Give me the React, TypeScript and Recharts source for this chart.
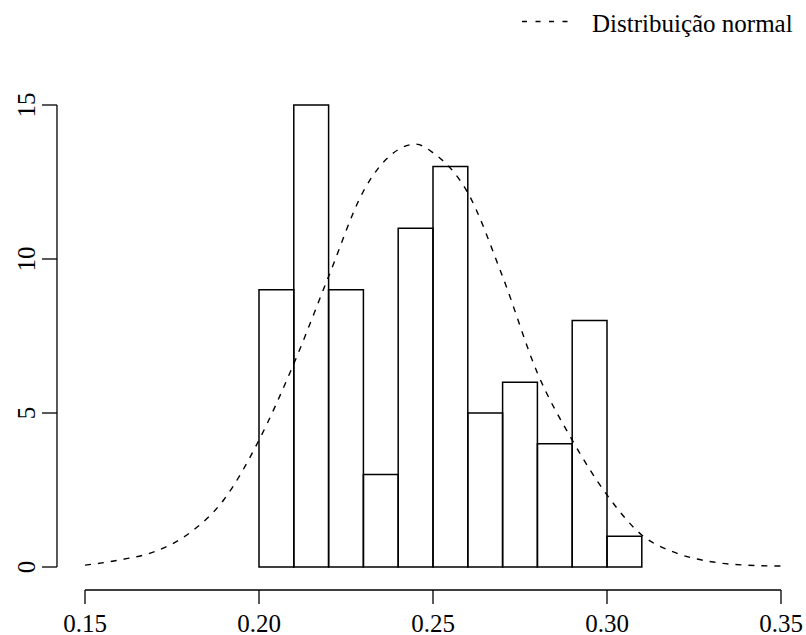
import React from "react";
import {
  ComposedChart,
  Line,
  XAxis,
  YAxis,
  ReferenceArea,
  ReferenceLine,
  Legend,
} from "recharts";

// histogram bins (left edge, right edge) and counts
const binStarts = [0.2, 0.21, 0.22, 0.23, 0.24, 0.25, 0.26, 0.27, 0.28, 0.29, 0.3];
const binEnds = [0.21, 0.22, 0.23, 0.24, 0.25, 0.26, 0.27, 0.28, 0.29, 0.3, 0.31];
const counts = [9, 15, 9, 3, 11, 13, 5, 6, 4, 8, 1];

// dashed normal curve
const curveX = [
  0.15, 0.16, 0.17, 0.18, 0.19, 0.2, 0.21, 0.22, 0.23, 0.24, 0.245, 0.25, 0.26,
  0.27, 0.28, 0.29, 0.3, 0.31, 0.32, 0.33, 0.34, 0.35,
];
const curveY = [
  0.06, 0.23, 0.5, 1.1, 2.2, 4.12, 6.6, 9.43, 12.2, 13.55, 13.73, 13.45, 12.15,
  9.43, 6.3, 4.12, 2.34, 1.04, 0.45, 0.17, 0.06, 0.03,
];

const xTicks = [0.15, 0.2, 0.25, 0.3, 0.35];
const yTicks = [0, 5, 10, 15];
const legendLabel = "Distribuição normal";

const FONT = '"Liberation Serif", "Times New Roman", Times, serif';
const textStyle = { fontFamily: FONT, fontSize: 25 };

const curveData = curveX.map((x, i) => ({ x, density: curveY[i] }));

function XTick(props: any) {
  const { x, y, payload } = props;
  return (
    <g>
      <line x1={x} x2={x} y1={y + 23} y2={y + 37} stroke="#000" strokeWidth={1.3} />
      <text x={x} y={y + 64.5} textAnchor="middle" style={textStyle} fill="#000">
        {payload.value.toFixed(2)}
      </text>
    </g>
  );
}

function YTick(props: any) {
  const { x, y, payload } = props;
  return (
    <g>
      <line x1={x - 28} x2={x - 43} y1={y} y2={y} stroke="#000" strokeWidth={1.3} />
      <text
        x={x - 50}
        y={y}
        textAnchor="middle"
        transform={`rotate(-90, ${x - 50}, ${y})`}
        style={textStyle}
        fill="#000"
      >
        {payload.value}
      </text>
    </g>
  );
}

function LegendBox() {
  return (
    <svg width={291} height={40} style={{ display: "block" }}>
      <line x1={7} x2={53} y1={21.5} y2={21.5} stroke="#000" strokeWidth={1.4} strokeDasharray="5 8.5" />
      <text x={77} y={31.5} style={textStyle} fill="#000">
        {legendLabel}
      </text>
    </svg>
  );
}

export default function App() {
  return (
    <div style={{ position: "absolute", left: 0, top: 0, background: "#fff" }}>
      <ComposedChart
        width={806}
        height={635}
        data={curveData}
        margin={{ top: 105, right: 25, bottom: 0, left: 0 }}
      >
        <XAxis
          dataKey="x"
          type="number"
          domain={[0.15, 0.35]}
          ticks={xTicks}
          allowDataOverflow
          axisLine={false}
          tickLine={false}
          tickSize={0}
          tickMargin={0}
          height={68}
          tick={<XTick />}
          interval={0}
        />
        <YAxis
          type="number"
          domain={[0, 15]}
          ticks={yTicks}
          allowDataOverflow
          axisLine={false}
          tickLine={false}
          tickSize={0}
          tickMargin={0}
          width={85}
          tick={<YTick />}
          interval={0}
        />
        {counts.map((c, i) => (
          <ReferenceArea
            key={`bin-${i}`}
            x1={binStarts[i]}
            x2={binEnds[i]}
            y1={0}
            y2={c}
            fill="none"
            stroke="#000"
            strokeWidth={1.5}
            ifOverflow="visible"
          />
        ))}
        <ReferenceLine
          segment={[
            { x: 0.15, y: -0.747 },
            { x: 0.35, y: -0.747 },
          ]}
          stroke="#000"
          strokeWidth={1.3}
          ifOverflow="visible"
        />
        <ReferenceLine
          segment={[
            { x: 0.14195, y: 0 },
            { x: 0.14195, y: 15 },
          ]}
          stroke="#000"
          strokeWidth={1.3}
          ifOverflow="visible"
        />
        <Line
          dataKey="density"
          type="monotone"
          stroke="#000"
          strokeWidth={1.4}
          strokeDasharray="6 7"
          dot={false}
          activeDot={false}
          isAnimationActive={false}
        />
        <Legend
          layout="horizontal"
          verticalAlign="middle"
          align="center"
          wrapperStyle={{ position: "absolute", left: 515, top: 0, width: 291 }}
          content={() => <LegendBox />}
        />
      </ComposedChart>
    </div>
  );
}
